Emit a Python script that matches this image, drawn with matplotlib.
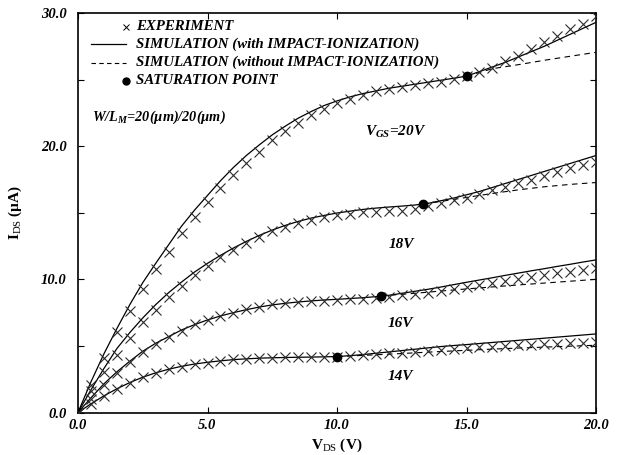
import matplotlib
matplotlib.use("Agg")
import matplotlib.pyplot as plt
import numpy as np

plt.rcParams['font.family'] = ['Liberation Serif', 'DejaVu Serif']
plt.rcParams['mathtext.fontset'] = 'custom'
plt.rcParams['mathtext.rm'] = 'Liberation Serif'
plt.rcParams['mathtext.it'] = 'Liberation Serif:italic:bold'
plt.rcParams['mathtext.bf'] = 'Liberation Serif:bold'

# measured drain current (uA), V_DS = 0, 0.5, ... 20 V
vds_exp = [i * 0.5 for i in range(41)]
exp_20 = [0, 2.1, 4.11, 6.02, 7.64, 9.25, 10.75, 12.07, 13.45, 14.65, 15.83, 16.83, 17.83, 18.75,
          19.58, 20.46, 21.16, 21.76, 22.33, 22.76, 23.21, 23.54, 23.86, 24.14, 24.29, 24.46,
          24.59, 24.76, 24.83, 25.04, 25.26, 25.6, 25.9, 26.4, 26.8, 27.3, 27.8, 28.27, 28.77,
          29.2, 29.77]
exp_18 = [0, 1.6, 3.02, 4.32, 5.57, 6.82, 7.7, 8.7, 9.5, 10.3, 11.0, 11.65, 12.2, 12.7, 13.2,
          13.63, 13.95, 14.25, 14.45, 14.65, 14.83, 14.9, 15.03, 15.08, 15.13, 15.13, 15.28,
          15.5, 15.7, 15.95, 16.08, 16.38, 16.7, 16.95, 17.25, 17.45, 17.78, 18.08, 18.33,
          18.58, 18.83]
exp_16 = [0, 1.05, 2.06, 2.94, 3.77, 4.57, 5.14, 5.64, 6.14, 6.62, 6.94, 7.24, 7.5, 7.75, 7.94,
          8.12, 8.2, 8.32, 8.37, 8.4, 8.45, 8.5, 8.5, 8.62, 8.7, 8.82, 8.9, 9.0, 9.1, 9.25, 9.44,
          9.57, 9.74, 9.9, 10.0, 10.2, 10.32, 10.45, 10.57, 10.7, 10.83]
exp_14 = [0, 0.65, 1.24, 1.74, 2.24, 2.64, 2.94, 3.24, 3.44, 3.62, 3.74, 3.89, 4.0, 4.0, 4.07,
          4.11, 4.14, 4.14, 4.14, 4.19, 4.19, 4.24, 4.29, 4.39, 4.44, 4.49, 4.57, 4.64, 4.69,
          4.77, 4.82, 4.9, 4.94, 4.99, 5.04, 5.07, 5.14, 5.14, 5.19, 5.24, 5.32]

# simulation with impact ionization
vds_sim = [i * 0.5 for i in range(41)]
sim_20 = [0, 2.3, 4.4, 6.3, 8.1, 9.75, 11.2, 12.6, 14.0, 15.2, 16.3, 17.4, 18.4, 19.3, 20.1,
          20.85, 21.5, 22.1, 22.6, 23.05, 23.4, 23.7, 23.95, 24.15, 24.35, 24.5, 24.65, 24.8,
          24.95, 25.1, 25.26, 25.6, 25.95, 26.3, 26.7, 27.1, 27.5, 27.95, 28.4, 28.85, 29.3]
sim_18 = [0, 1.7, 3.3, 4.8, 6.0, 7.1, 8.1, 9.0, 9.8, 10.55, 11.2, 11.8, 12.35, 12.85, 13.3,
          13.7, 14.05, 14.35, 14.6, 14.8, 14.98, 15.12, 15.25, 15.35, 15.43, 15.5, 15.58, 15.7,
          15.9, 16.1, 16.35, 16.6, 16.9, 17.2, 17.5, 17.8, 18.1, 18.4, 18.7, 19.0, 19.3]
sim_16 = [0, 1.1, 2.15, 3.05, 3.85, 4.6, 5.2, 5.7, 6.2, 6.6, 6.95, 7.25, 7.5, 7.72, 7.92, 8.08,
          8.2, 8.3, 8.38, 8.45, 8.5, 8.56, 8.62, 8.7, 8.8, 8.95, 9.1, 9.25, 9.42, 9.6, 9.78,
          9.95, 10.12, 10.3, 10.47, 10.64, 10.8, 10.97, 11.13, 11.3, 11.46]
sim_14 = [0, 0.65, 1.25, 1.78, 2.25, 2.65, 2.98, 3.25, 3.47, 3.64, 3.77, 3.88, 3.97, 4.03, 4.08,
          4.11, 4.13, 4.15, 4.16, 4.18, 4.2, 4.27, 4.35, 4.45, 4.55, 4.65, 4.75, 4.85, 4.95,
          5.03, 5.1, 5.18, 5.26, 5.34, 5.42, 5.5, 5.58, 5.66, 5.74, 5.82, 5.9]

# simulation without impact ionization (from saturation point on)
noii_v_20 = [15.0, 16.0, 17.0, 18.0, 19.0, 20.0]
noii_20 = [25.26, 25.82, 26.12, 26.45, 26.75, 27.05]
noii_v_18 = [13.33, 14.0, 15.0, 16.0, 17.0, 18.0, 19.0, 20.0]
noii_18 = [15.65, 15.85, 16.15, 16.45, 16.72, 16.95, 17.13, 17.27]
noii_v_16 = [11.69, 12.0, 13.0, 14.0, 15.0, 16.0, 17.0, 18.0, 19.0, 20.0]
noii_16 = [8.75, 8.8, 8.95, 9.12, 9.28, 9.43, 9.58, 9.72, 9.86, 10.0]
noii_v_14 = [10.0, 11.0, 12.0, 13.0, 14.0, 15.0, 16.0, 17.0, 18.0, 19.0, 20.0]
noii_14 = [4.2, 4.29, 4.38, 4.48, 4.58, 4.67, 4.76, 4.84, 4.91, 4.98, 5.05]

# saturation points
sat_v = [15.0, 13.33, 11.69, 10.0]
sat_i = [25.26, 15.65, 8.75, 4.2]

vgs_labels = [r'$V_{GS}$=20V', '18V', '16V', '14V']
label_v = [12.25, 12.5, 12.45, 12.45]
label_i = [21.1, 12.6, 6.65, 2.69]

fig = plt.figure(figsize=(6.21, 4.55), dpi=100)
ax = fig.add_axes([0.1256, 0.0934, 0.8342, 0.878])

for sim in [sim_20, sim_18, sim_16, sim_14]:
    ax.plot(vds_sim, sim, color='black', lw=0.9, zorder=2)
for v, i in [(noii_v_20, noii_20), (noii_v_18, noii_18), (noii_v_16, noii_16), (noii_v_14, noii_14)]:
    ax.plot(v, i, color='black', lw=0.8, dashes=(5, 4), zorder=2)
for e in [exp_20, exp_18, exp_16, exp_14]:
    ax.plot(vds_exp, e, linestyle='none', marker='x', ms=6.5, mew=0.8, color='#2a2a2a', zorder=3)
ax.plot(sat_v, sat_i, linestyle='none', marker='o', ms=6, color='black', zorder=4)

for lab, x, y in zip(vgs_labels, label_v, label_i):
    ax.text(x, y, lab, fontsize=11, fontweight='bold', fontstyle='italic', ha='center', va='center')

# legend drawn by hand
tx = 0.112
rows = [0.966, 0.922, 0.876, 0.830]
ax.plot([0.0927], [rows[0]], transform=ax.transAxes, marker='x', ms=5, mew=0.7, color='black', ls='none')
ax.plot([0.0245, 0.093], [rows[1], rows[1]], transform=ax.transAxes, color='black', lw=0.9)
ax.plot([0.0245, 0.093], [rows[2], rows[2]], transform=ax.transAxes, color='black', lw=0.8, dashes=(4, 3))
ax.plot([0.0927], [rows[3]], transform=ax.transAxes, marker='o', ms=5, color='black', ls='none')
leg_txt = ['EXPERIMENT', 'SIMULATION (with IMPACT-IONIZATION)',
           'SIMULATION (without IMPACT-IONIZATION)', 'SATURATION POINT']
for t, y in zip(leg_txt, rows):
    ax.text(tx, y, t, transform=ax.transAxes, fontsize=10.7, fontweight='bold', fontstyle='italic', va='center')
ax.text(0.027, 0.740, r'W/L$_{M}$=20(µm)/20(µm)', transform=ax.transAxes, fontsize=10.3,
        fontweight='bold', fontstyle='italic', va='center')

ax.set_xlim(0, 20)
ax.set_ylim(0, 30)
ax.set_xticks([0, 5, 10, 15, 20])
ax.set_yticks([0, 10, 20, 30])
ax.set_yticks([5, 15, 25], minor=True)
ax.set_xticklabels(['0.0', '5.0', '10.0', '15.0', '20.0'])
ax.set_yticklabels(['0.0', '10.0', '20.0', '30.0'])
ax.tick_params(which='both', direction='in', top=True, right=True, length=4, width=0.8)
ax.tick_params(axis='x', pad=5)
ax.tick_params(axis='y', pad=8)
for lab in ax.get_xticklabels() + ax.get_yticklabels():
    lab.set_fontsize(10.5)
    lab.set_fontweight('bold')
    lab.set_fontstyle('italic')
for s in ax.spines.values():
    s.set_linewidth(1.2)

ax.set_xlabel(r'V$_{\rm DS}$ (V)', fontsize=11, fontweight='bold', labelpad=3)
ax.set_ylabel(r'I$_{\rm DS}$ (µA)', fontsize=11, fontweight='bold', labelpad=12)

fig.savefig('out.png', dpi=100)
